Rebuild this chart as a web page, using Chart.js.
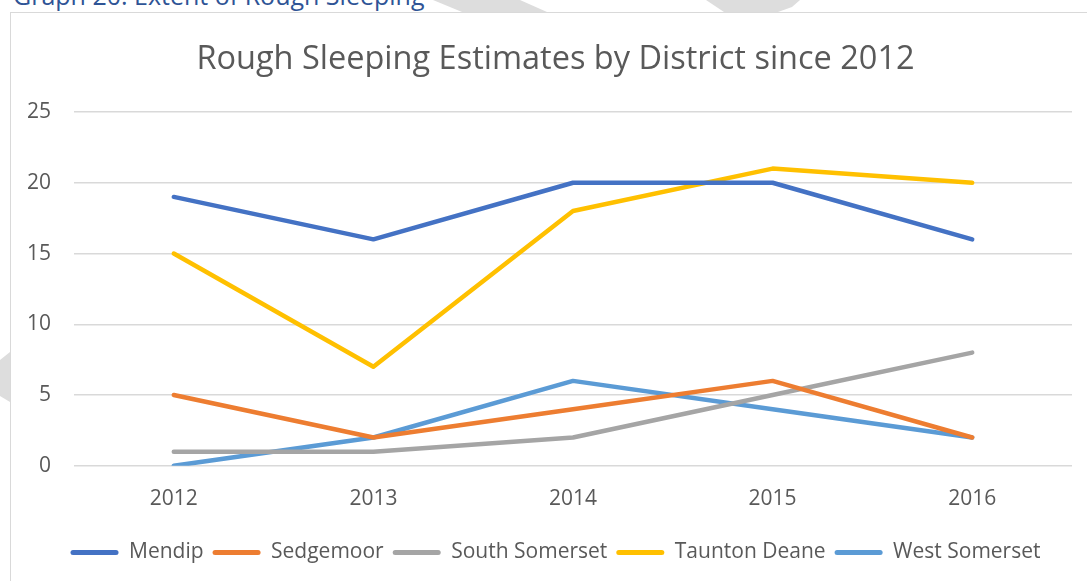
<!DOCTYPE html>
<html>
<head>
<meta charset="utf-8">
<script src="https://cdn.jsdelivr.net/npm/chart.js@4.4.1/dist/chart.umd.min.js"></script>
<style>
  html, body { margin: 0; padding: 0; background: #fff; overflow: hidden; }
  body { width: 1087px; height: 581px; position: relative; }
  .mark {
    position: absolute; left: 0; top: 0; width: 1087px; height: 581px;
    background: #dddddd;
  }
  .mark1 { clip-path: polygon(433px 0, 520px 0, 547px 12px, 462px 12px); }
  .mark2 { clip-path: polygon(706px 0, 800px 0, 792px 7px, 778px 12px, 724px 12px); }
  .mark3 { clip-path: polygon(0 360px, 10px 352px, 10px 402px, 0 396px); }
  .caption {
    position: absolute; left: 13px; top: -17px;
    font-family: "Open Sans", sans-serif; font-size: 25px; line-height: 1;
    color: #2f5496; white-space: nowrap;
  }
  .frame {
    position: absolute; left: 10px; top: 12px; width: 1100px; height: 600px;
    border: 1.5px solid #d9d9d9; background: #fff;
  }
  #graph-rough { position: absolute; left: 0; top: 0; }
</style>
</head>
<body>
<div class="mark mark1"></div>
<div class="mark mark2"></div>
<div class="mark mark3"></div>
<div class="caption">Graph 20: Extent of Rough Sleeping</div>
<div class="frame"></div>
<canvas id="graph-rough" width="1087" height="581"></canvas>
<script>
// data
const years = ["2012", "2013", "2014", "2015", "2016"];
const mendip = [19, 16, 20, 20, 16];
const sedgemoor = [5, 2, 4, 6, 2];
const southSomerset = [1, 1, 2, 5, 8];
const tauntonDeane = [15, 7, 18, 21, 20];
const westSomerset = [0, 2, 6, 4, 2];

const textColor = "#595959";
const fontFamily = "'Open Sans', sans-serif";

const line = (label, data, color) => ({
  label: label,
  data: data,
  borderColor: color,
  backgroundColor: color,
  borderWidth: 4.5,
  pointRadius: 0,
  tension: 0,
  borderCapStyle: "round",
  borderJoinStyle: "round",
});

const graphRough = document.getElementById("graph-rough").getContext("2d");
const myChart = new Chart(graphRough, {
  type: "line",
  data: {
    labels: years,
    datasets: [
      line("Mendip", mendip, "#4472c4"),
      line("Sedgemoor", sedgemoor, "#ed7d31"),
      line("South Somerset", southSomerset, "#a5a5a5"),
      line("Taunton Deane", tauntonDeane, "#ffc000"),
      line("West Somerset", westSomerset, "#5b9bd5"),
    ],
  },
  options: {
    responsive: false,
    animation: false,
    layout: { padding: { left: 24, right: 0, top: 0, bottom: 8 } },
    plugins: {
      title: {
        display: true,
        text: "Rough Sleeping Estimates by District since 2012",
        color: textColor,
        font: { family: fontFamily, size: 32.5, weight: "normal" },
        padding: { top: 40, bottom: 33 },
      },
      legend: {
        position: "bottom",
        labels: {
          boxWidth: 48,
          boxHeight: 5,
          useBorderRadius: true,
          borderRadius: 2.5,
          padding: 9,
          color: textColor,
          font: { family: fontFamily, size: 21 },
          generateLabels: (chart) =>
            Chart.defaults.plugins.legend.labels
              .generateLabels(chart)
              .map((l) => ({ ...l, lineWidth: 0 })),
        },
      },
      tooltip: { enabled: false },
    },
    scales: {
      x: {
        offset: true,
        grid: { display: false, drawTicks: false },
        border: { display: false },
        ticks: { padding: 21, color: textColor, font: { family: fontFamily, size: 21 } },
      },
      y: {
        min: 0,
        max: 25,
        ticks: { stepSize: 5, padding: 23, color: textColor, font: { family: fontFamily, size: 21 } },
        grid: { color: "#d9d9d9", lineWidth: 1.5, drawTicks: false },
        border: { display: false },
        afterFit: (scale) => {
          scale.width = 50;
        },
      },
      // empty right margin so the plot ends where the gridlines end
      yRight: {
        position: "right",
        grid: { display: false, drawTicks: false },
        border: { display: false },
        ticks: { display: false },
        afterFit: (scale) => {
          scale.width = 15;
        },
      },
    },
  },
});
</script>
</body>
</html>
